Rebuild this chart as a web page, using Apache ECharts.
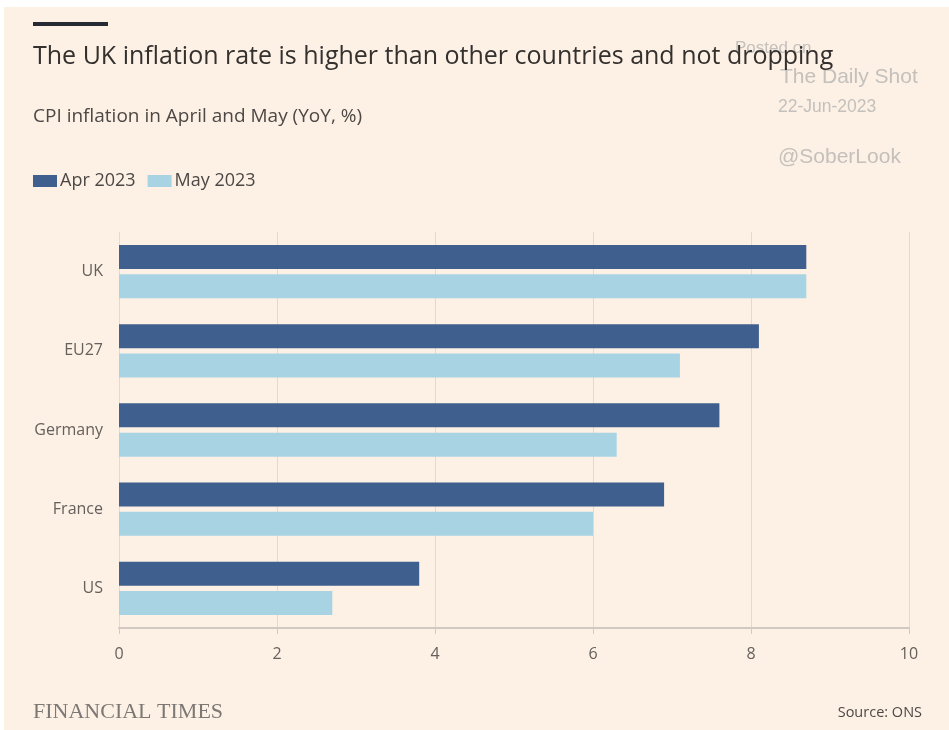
<!DOCTYPE html>
<html>
<head>
<meta charset="utf-8">
<script src="https://cdn.jsdelivr.net/npm/echarts@6/dist/echarts.min.js"></script>
<style>
  html, body { margin: 0; padding: 0; background: #ffffff; }
  #paper { position: absolute; left: 4px; top: 7px; width: 945px; height: 723px; background: #fdf1e6; }
  #chart { position: absolute; left: 0; top: 0; width: 949px; height: 730px; }
</style>
</head>
<body>
<div id="paper"></div>
<div id="chart"></div>
<script>
// CPI inflation, year on year, %
const countries = ['UK', 'EU27', 'Germany', 'France', 'US'];
const apr2023 = [8.7, 8.1, 7.6, 6.9, 3.8];
const may2023 = [8.7, 7.1, 6.3, 6.0, 2.7];
const seriesNames = ['Apr 2023', 'May 2023'];
const xTicks = { min: 0, max: 10, step: 2 };

const FONT = '"Open Sans", "Noto Sans", sans-serif';
const MARK = '"Liberation Sans", Arial, sans-serif';
const labelGrey = '#66605c';
const markGrey = '#c4c0bc';

const chart = echarts.init(document.getElementById('chart'), null, { renderer: 'canvas' });

function txt(x, y, text, font, fill, z, align) {
  return {
    type: 'text', z: z, x: x, y: y,
    style: { text: text, font: font, fill: fill, align: align || 'left', verticalAlign: 'middle' }
  };
}

chart.setOption({
  backgroundColor: 'transparent',
  animation: false,
  textStyle: { fontFamily: FONT },
  grid: { left: 119, right: 40, top: 232, bottom: 102, containLabel: false },
  legend: {
    left: 28, top: 167,
    icon: 'rect', itemWidth: 24, itemHeight: 12, itemGap: 12,
    textStyle: { fontFamily: FONT, fontSize: 18, color: '#4d4845', padding: [0, 0, 0, -2] },
    data: seriesNames
  },
  xAxis: {
    type: 'value',
    min: xTicks.min, max: xTicks.max, interval: xTicks.step,
    axisLine: { show: true, lineStyle: { color: '#d2cac2', width: 2 } },
    axisTick: { show: true, length: 6, lineStyle: { color: '#d2cac2', width: 1 } },
    axisLabel: { color: labelGrey, fontSize: 16, margin: 18, fontFamily: FONT },
    splitLine: { show: true, lineStyle: { color: '#e2dad1', width: 1 } }
  },
  yAxis: {
    type: 'category',
    inverse: true,
    data: countries,
    axisLine: { show: false },
    axisTick: { show: false },
    axisLabel: { color: labelGrey, fontSize: 16, margin: 16, fontFamily: FONT }
  },
  series: [
    {
      name: seriesNames[0], type: 'bar', data: apr2023,
      barWidth: 24, barGap: '22%',
      itemStyle: { color: '#3f5f8e' }
    },
    {
      name: seriesNames[1], type: 'bar', data: may2023,
      barWidth: 24, barGap: '22%',
      itemStyle: { color: '#a7d3e3' }
    }
  ],
  graphic: [
    // watermark
    txt(735, 48, 'Posted on', '17px ' + MARK, markGrey, 1),
    txt(780, 77, 'The Daily Shot', '21px ' + MARK, markGrey, 1),
    txt(778, 107, '22-Jun-2023', '17.5px ' + MARK, markGrey, 1),
    txt(778, 157, '@SoberLook', '21px ' + MARK, markGrey, 1),
    // header rule
    { type: 'rect', z: 5, shape: { x: 33, y: 22, width: 75, height: 4 }, style: { fill: '#262a33' } },
    // title and subtitle
    txt(33, 57, 'The UK inflation rate is higher than other countries and not dropping', '25px ' + FONT, '#33302e', 5),
    txt(33, 117, 'CPI inflation in April and May (YoY, %)', '19px ' + FONT, '#4d4845', 5),
    // footer
    txt(33, 712, 'FINANCIAL TIMES', '22px "Liberation Serif", "DejaVu Serif", serif', '#7d7873', 5),
    txt(922, 713, 'Source: ONS', '14.5px ' + FONT, '#4d4845', 5, 'right')
  ]
});
</script>
</body>
</html>
